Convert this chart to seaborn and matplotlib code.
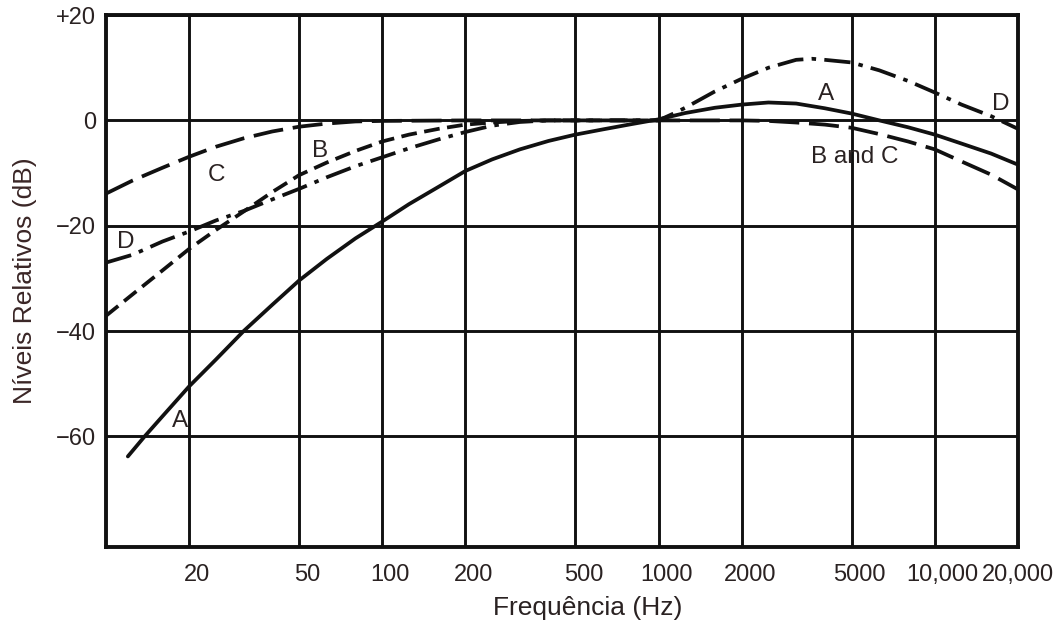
import matplotlib
matplotlib.use("Agg")
import matplotlib.pyplot as plt
import matplotlib.transforms as mtransforms
from matplotlib.ticker import FixedLocator, NullLocator, FixedFormatter
import pandas as pd
import seaborn as sns

# Frequency weighting curves (relative level in dB vs frequency in Hz)
freq_a = [12, 13.8, 16, 20, 25, 31.5, 40, 50, 63, 80, 100, 125, 160, 200, 250, 315, 400, 500, 630, 800,
          1000, 1250, 1600, 2000, 2500, 3150, 4000, 5000, 6300, 8000, 10000, 12500, 16000, 20000]
level_a = [-63.8, -60.0, -56.2, -50.5, -45.4, -40.0, -35.0, -30.4, -26.3, -22.4, -19.2, -15.9, -12.6, -9.6,
           -7.4, -5.5, -3.9, -2.7, -1.7, -0.7, 0.2, 1.4, 2.4, 3.0, 3.4, 3.2, 2.3, 1.3, 0.0, -1.3, -2.7,
           -4.4, -6.3, -8.4]

freq_b = [10, 12.5, 16, 20, 25, 31.5, 40, 50, 63, 80, 100, 125, 160, 200, 250, 315, 400, 1000]
level_b = [-37.1, -33.0, -28.5, -24.4, -20.8, -17.3, -13.6, -10.4, -8.0, -5.8, -4.0, -2.7, -1.6, -0.8,
           -0.4, -0.1, 0.0, 0.0]

freq_c = [10, 12.5, 16, 20, 25, 31.5, 40, 50, 63, 80, 100, 200, 500, 1000, 2000, 2500, 3150, 4000,
          5000, 6300, 8000, 10000, 12500, 16000, 20000]
level_c = [-13.9, -11.4, -9.0, -6.9, -5.0, -3.4, -2.1, -1.2, -0.6, -0.2, -0.1, 0.0, 0.0, 0.0, 0.0,
           -0.1, -0.4, -0.8, -1.4, -2.6, -4.0, -5.5, -7.8, -10.3, -13.1]

freq_d = [10, 12.5, 16, 20, 25, 31.5, 40, 50, 63, 80, 100, 125, 160, 200, 250, 315, 400, 500, 1000,
          1133, 1250, 1600, 2000, 2500, 3150, 3600, 4000, 5000, 6300, 8000, 10000, 12500, 16000, 20000]
level_d = [-27.0, -25.5, -23.0, -21.1, -19.0, -17.2, -15.0, -13.0, -10.8, -8.7, -7.0, -5.3, -3.6, -2.2,
           -1.0, -0.3, 0.0, 0.0, 0.0, 1.3, 2.4, 5.5, 7.9, 10.0, 11.5, 11.7, 11.5, 11.0, 9.5, 7.5, 5.3,
           3.0, 0.8, -1.6]

tick_freqs = [20, 50, 100, 200, 500, 1000, 2000, 5000, 10000, 20000]
tick_names = ["20", "50", "100", "200", "500", "1000", "2000", "5000", "10,000", "20,000"]
level_ticks = [-60, -40, -20, 0, 20]
level_names = ["\u221260", "\u221240", "\u221220", "0", "+20"]

# label text, frequency, level
curve_labels = [
    ("A", 18.5, -57.0),
    ("C", 25.2, -10.4),
    ("D", 11.8, -23.0),
    ("B", 59.6, -5.9),
    ("A", 4030, 5.1),
    ("D", 17300, 3.2),
    ("B and C", 5130, -7.0),
]

sns.set_style("white")
plt.rcParams["font.family"] = ["Liberation Sans", "DejaVu Sans"]

ink = "#111111"
text_ink = "#2a2222"

fig = plt.figure(figsize=(10.64, 6.30), dpi=100)
ax = fig.add_axes([0.0996, 0.1317, 0.8571, 0.8444])

curves = [
    (freq_a, level_a, "-"),
    (freq_b, level_b, (0, (4.2, 2.0))),
    (freq_c, level_c, (0, (8.0, 2.6))),
    (freq_d, level_d, (0, (7.0, 2.2, 1.2, 2.2))),
]
lw = 2.7
for f, lv, style in curves:
    df = pd.DataFrame({"freq": f, "level": lv})
    sns.lineplot(data=df, x="freq", y="level", ax=ax, color=ink, linewidth=lw,
                 estimator=None, sort=False, legend=False)
    line = ax.lines[-1]
    line.set_linestyle(style)
    line.set_solid_capstyle("round")
    line.set_solid_joinstyle("round")
    line.set_dash_capstyle("butt")
    line.set_zorder(3)

ax.set_xscale("log")
ax.set_xlim(10, 20000)
ax.set_ylim(-81, 20)

ax.xaxis.set_major_locator(FixedLocator(tick_freqs))
ax.xaxis.set_major_formatter(FixedFormatter(tick_names))
ax.xaxis.set_minor_locator(NullLocator())
ax.yaxis.set_major_locator(FixedLocator(level_ticks))
ax.yaxis.set_major_formatter(FixedFormatter(level_names))

ax.grid(True, which="major", color=ink, linewidth=2.1, linestyle="-")
ax.set_axisbelow(True)
for s in ax.spines.values():
    s.set_visible(True)
    s.set_color(ink)
    s.set_linewidth(2.8)

ax.tick_params(axis="both", length=0, labelsize=17, colors=text_ink)
ax.tick_params(axis="x", pad=12)
ax.tick_params(axis="y", pad=7)

# frequency labels sit slightly right of their grid lines
shift = mtransforms.ScaledTranslation(0.08, 0, fig.dpi_scale_trans)
for lab in ax.get_xticklabels()[:-1]:
    lab.set_transform(lab.get_transform() + shift)

ax.set_xlabel("Frequência (Hz)", fontsize=19, color=text_ink)
ax.xaxis.set_label_coords(0.528, -0.092)
ax.set_ylabel("Níveis Relativos (dB)", fontsize=19, color="#3a2626")
ax.yaxis.set_label_coords(-0.076, 0.5)

for txt, fx, ly in curve_labels:
    ax.text(fx, ly, txt, fontsize=17.5, color=text_ink, ha="center", va="center", zorder=4)

fig.savefig("out.png", dpi=100, facecolor="white")
